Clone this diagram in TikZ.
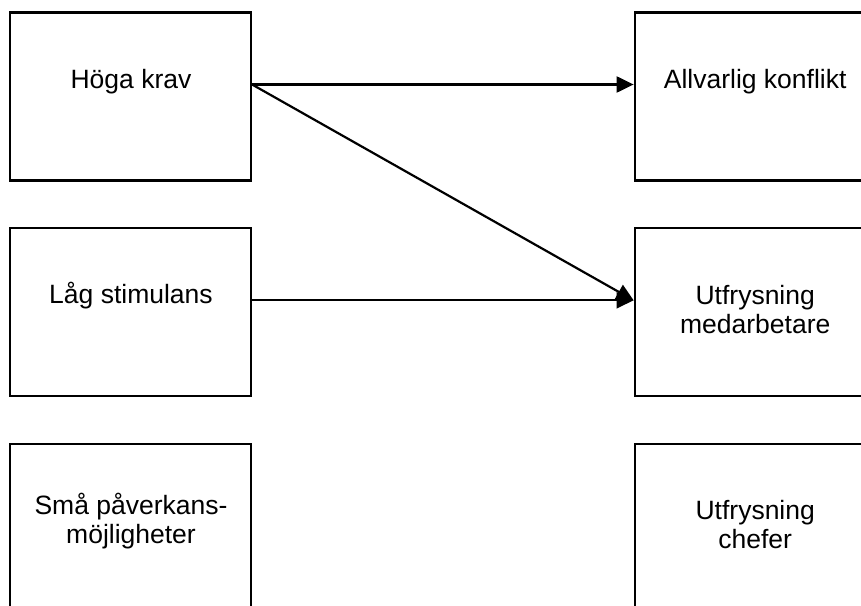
\documentclass[tikz,border=0pt]{standalone}
\usepackage{fontspec}
\setmainfont{Liberation Sans}
\usetikzlibrary{arrows.meta}
\begin{document}
\begin{tikzpicture}[x=1pt,y=-1pt,
  box/.style={draw=black,line width=2.2pt,rectangle,minimum width=241pt,minimum height=168pt,inner sep=0pt},
  lbl/.style={anchor=base,align=center,inner sep=0pt,font=\fontsize{26.5}{29}\selectfont},
  conn/.style={line width=2.2pt,-{Triangle[length=17pt,width=16pt]}}]
\useasboundingbox (0,0) rectangle (861,605);
\clip (0,0) rectangle (861,605);
\node[box] (A) at (130.5,96.5) {};
\node[box] (B) at (130.5,312.3) {};
\node[box] (C) at (130.5,528.3) {};
\node[box] (D) at (755.2,96.5) {};
\node[box] (E) at (755.2,312.3) {};
\node[box] (F) at (755.2,528.3) {};
\node[lbl] (tA) at (131,88.3) {Höga krav};
\node[lbl] (tB) at (131,303.3) {Låg stimulans};
\node[lbl] (tC) at (131,543) {Små påverkans-\\möjligheter};
\node[lbl] (tD) at (755.2,88.3) {Allvarlig konflikt};
\node[lbl] (tE) at (755.2,333.3) {Utfrysning\\medarbetare};
\node[lbl] (tF) at (755.2,548.3) {Utfrysning\\chefer};
\coordinate (s1) at ([yshift=12pt]A.east);
\coordinate (t1) at ([yshift=12pt]D.west);
\coordinate (s2) at ([yshift=12pt]B.east);
\coordinate (t2) at ([yshift=12pt]E.west);
\draw[conn] (s1) -- (t1);
\draw[conn] (s1) -- (t2);
\draw[conn] (s2) -- (t2);
\end{tikzpicture}
\end{document}
